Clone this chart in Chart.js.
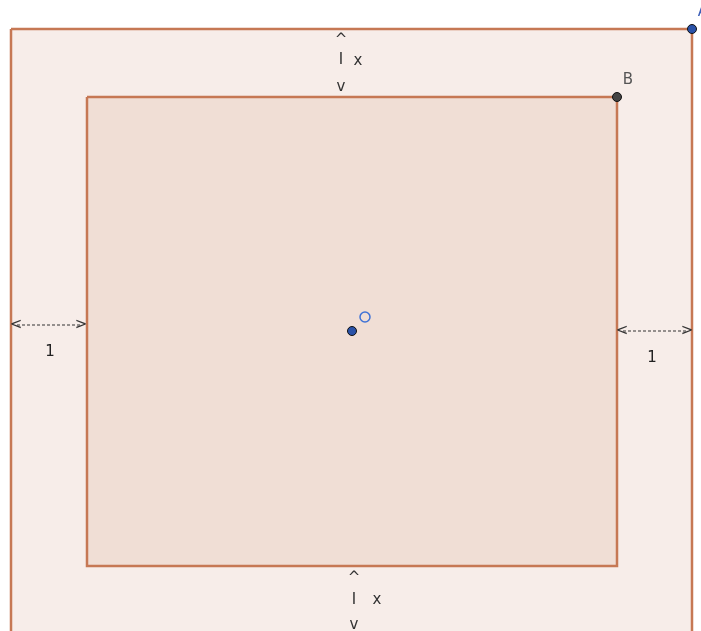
<!DOCTYPE html>
<html>
<head>
<meta charset="utf-8">
<script src="https://cdn.jsdelivr.net/npm/chart.js@4"></script>
<style>
  body { margin: 0; background: #fff; }
  #wrap { width: 701px; height: 631px; }
</style>
</head>
<body>
<div id="wrap"><canvas id="fig" width="701" height="631"></canvas></div>
<script>
// figure data (drawing units, y grows downward)
var outerRect = [[11, 29], [692, 29], [692, 645], [11, 645], [11, 29]];
var innerRect = [[87, 97], [617, 97], [617, 566], [87, 566], [87, 97]];
var pointA = [692, 29];
var pointB = [617, 97];
var centre = [352, 331];
var openPoint = [365, 317];
var leftGap = [[17, 325], [80, 325]];
var rightGap = [[623, 331], [686, 331]];

// text labels: [text, x, y, colour]
var labels = [
    ['A', 703, 12, '#3d5fb8'],
    ['B', 628, 80, '#555555'],
    ['^', 341, 40, '#333'], ['I', 341, 60, '#333'], ['x', 358, 61, '#333'], ['v', 341, 87, '#333'],
    ['^', 354, 578, '#333'], ['I', 354, 600, '#333'], ['x', 377, 600, '#333'], ['v', 354, 625, '#333'],
    ['<', 16, 325, '#333'], ['>', 81, 325, '#333'], ['1', 50, 352, '#222'],
    ['<', 622, 331, '#333'], ['>', 687, 331, '#333'], ['1', 652, 358, '#222']
];

function pts(arr) {
    return arr.map(function (p) { return { x: p[0], y: p[1] }; });
}

var edge = 'rgb(198,120,84)';

var textPlugin = {
    id: 'texts',
    afterDatasetsDraw: function (chart) {
        var ctx = chart.ctx;
        var xs = chart.scales.x, ys = chart.scales.y;
        ctx.save();
        ctx.font = '15px "DejaVu Sans", sans-serif';
        ctx.textAlign = 'center';
        ctx.textBaseline = 'middle';
        labels.forEach(function (l) {
            ctx.fillStyle = l[3];
            ctx.fillText(l[0], xs.getPixelForValue(l[1]), ys.getPixelForValue(l[2]));
        });
        ctx.restore();
    }
};

var config = {
    type: 'scatter',
    data: {
        datasets: [
            {
                data: pts(outerRect), showLine: true, fill: 'shape', tension: 0, order: 10,
                borderColor: edge, borderWidth: 2.5, backgroundColor: 'rgb(247,237,233)',
                pointRadius: 0
            },
            {
                data: pts(innerRect), showLine: true, fill: 'shape', tension: 0, order: 9,
                borderColor: edge, borderWidth: 2.5, backgroundColor: 'rgb(240,222,213)',
                pointRadius: 0
            },
            {
                data: pts(leftGap), showLine: true, borderColor: '#333', borderWidth: 1.2, order: 5,
                borderDash: [3, 2], pointRadius: 0
            },
            {
                data: pts(rightGap), showLine: true, borderColor: '#333', borderWidth: 1.2, order: 5,
                borderDash: [3, 2], pointRadius: 0
            },
            {
                data: pts([pointA, centre]), pointRadius: 4.5, pointBackgroundColor: '#2a52a8',
                pointBorderColor: '#111', pointBorderWidth: 1, order: 1
            },
            {
                data: pts([pointB]), pointRadius: 4.5, pointBackgroundColor: '#444',
                pointBorderColor: '#111', pointBorderWidth: 1, order: 1
            },
            {
                data: pts([openPoint]), pointRadius: 5, pointBackgroundColor: 'rgba(0,0,0,0)',
                pointBorderColor: '#3f72d6', pointBorderWidth: 1.5, order: 1
            }
        ]
    },
    plugins: [textPlugin],
    options: {
        responsive: false,
        animation: false,
        layout: { padding: 0, autoPadding: false },
        plugins: { legend: { display: false }, tooltip: { enabled: false } },
        scales: {
            x: { type: 'linear', min: 0, max: 701, display: false },
            y: { type: 'linear', min: 0, max: 631, reverse: true, display: false }
        }
    }
};

var chart = new Chart(document.getElementById('fig').getContext('2d'), config);
</script>
</body>
</html>
